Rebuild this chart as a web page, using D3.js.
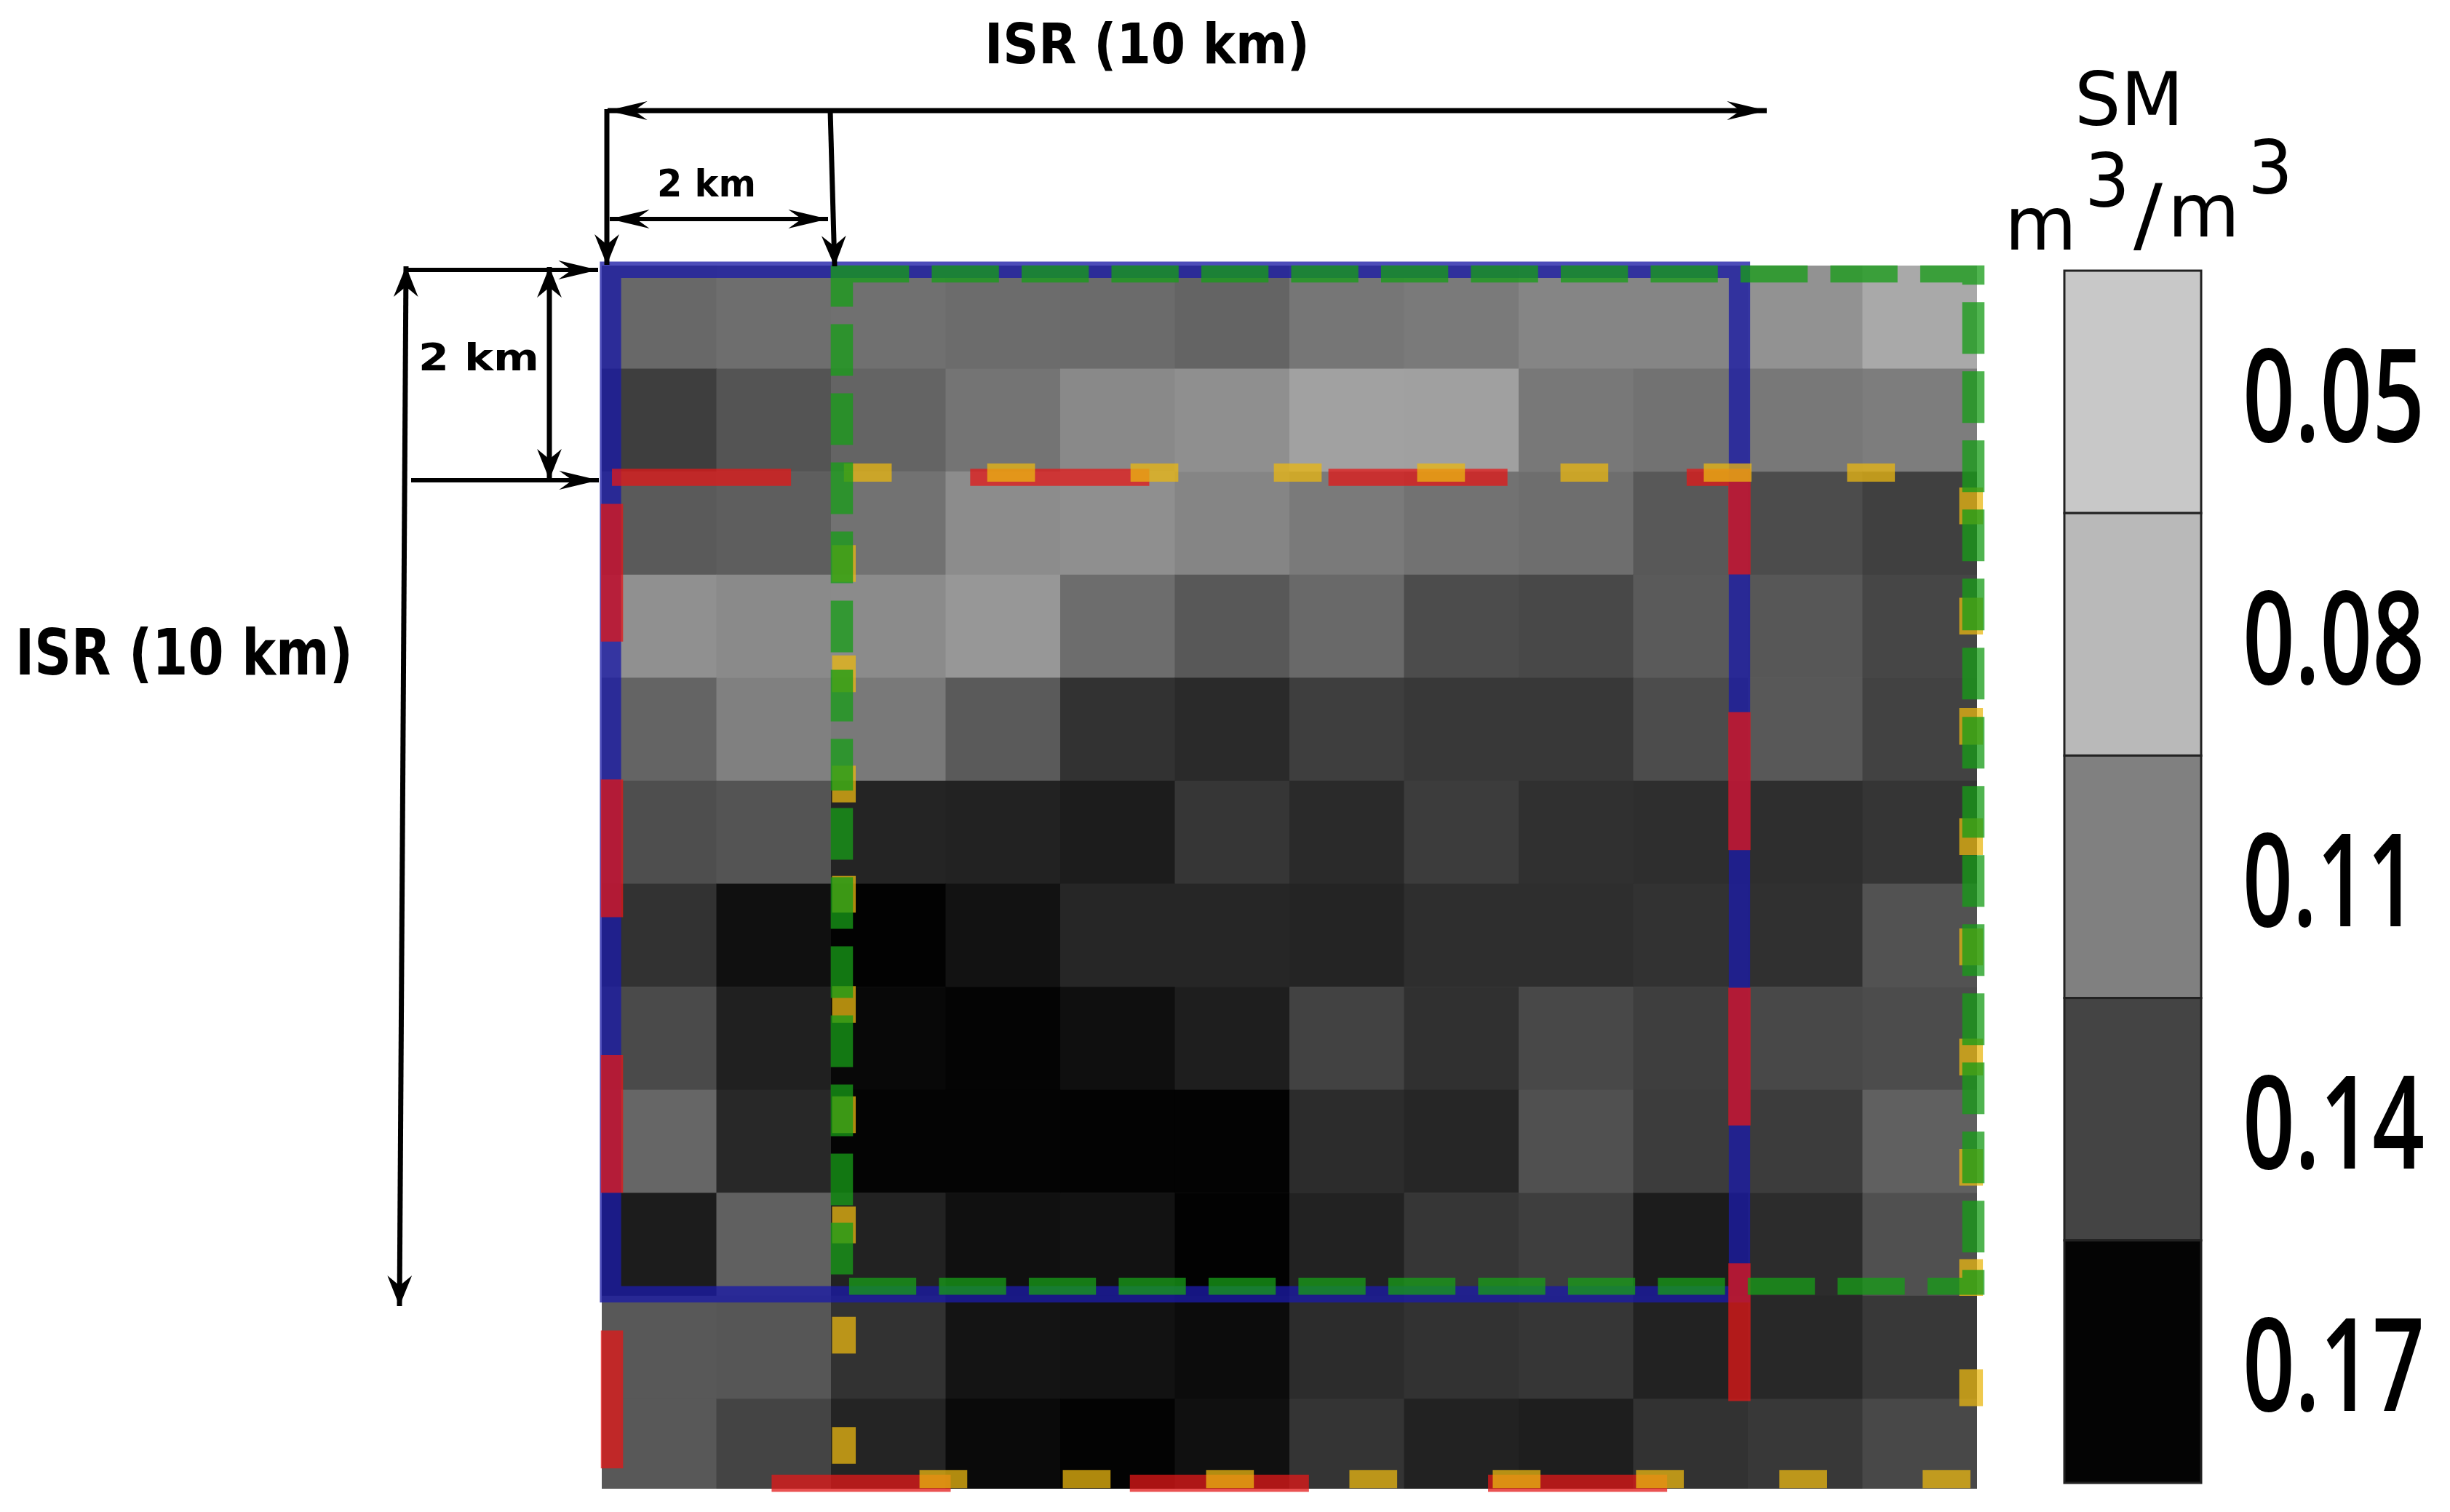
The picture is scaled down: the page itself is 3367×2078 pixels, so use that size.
<!DOCTYPE html>
<html><head><meta charset="utf-8">
<script src="https://cdn.jsdelivr.net/npm/d3@7"></script>
<style>html,body{margin:0;padding:0;background:#fff}svg{display:block}</style>
</head><body><div id="chart"></div>
<script>
// soil moisture (m3/m3) on the 1 km grid, row by row
const smRow00=[.1091,.1054,.1042,.1066,.1072,.1115,.1005,.0980,.0912,.0912,.0832,.0691];
const smRow01=[.1349,.1214,.1115,.1017,.0888,.0851,.0740,.0746,.0992,.1029,.0992,.0962];
const smRow02=[.1177,.1152,.1029,.0869,.0851,.0912,.0980,.1029,.1054,.1189,.1263,.1337];
const smRow03=[.0845,.0882,.0875,.0802,.1060,.1189,.1085,.1263,.1288,.1177,.1195,.1300];
const smRow04=[.1115,.0943,.0986,.1177,.1423,.1472,.1349,.1386,.1386,.1263,.1189,.1325];
const smRow05=[.1251,.1214,.1509,.1522,.1558,.1398,.1472,.1362,.1435,.1448,.1448,.1405];
const smRow06=[.1423,.1632,.1718,.1620,.1497,.1497,.1509,.1448,.1448,.1423,.1435,.1226];
const smRow07=[.1275,.1534,.1682,.1706,.1638,.1546,.1325,.1435,.1288,.1349,.1288,.1263];
const smRow08=[.1103,.1485,.1706,.1706,.1712,.1712,.1460,.1497,.1238,.1362,.1362,.1140];
const smRow09=[.1558,.1140,.1522,.1632,.1620,.1718,.1522,.1398,.1349,.1558,.1460,.1238];
const smRow10=[.1189,.1202,.1423,.1608,.1620,.1657,.1460,.1423,.1398,.1522,.1485,.1386];
const smRow11=[.1189,.1312,.1509,.1669,.1712,.1632,.1411,.1522,.1546,.1423,.1386,.1288];
const smGrid=[smRow00,smRow01,smRow02,smRow03,smRow04,smRow05,smRow06,smRow07,smRow08,smRow09,smRow10,smRow11];

const legendLabels=["0.05","0.08","0.11","0.14","0.17"];
const legendGreys=[200,185,128,68,4];

// the four 10 km windows, in km on the grid: [left, top, right, bottom]
const windowBlue=[0.076,0.04,9.927,9.986];
const windowRed=[0.089,2.055,9.927,11.82];
const windowYellow=[2.113,2.01,11.948,11.78];
const windowGreen=[2.095,0.081,11.968,9.908];

const W=3367,H=2078;
const svg=d3.select("#chart").append("svg").attr("width",W).attr("height",H).attr("viewBox",`0 0 ${W} ${H}`);
const defs=svg.append("defs");

const x=d3.scaleLinear().domain([0,12]).range([827,2717]);
const y=d3.scaleLinear().domain([0,12]).range([365,2064]);
const smGrey=d3.scaleLinear().domain([0.05,0.17]).range([200,5]);
const grey=g=>{const v=Math.round(g);return `rgb(${v},${v},${v})`};

defs.append("clipPath").attr("id","gridClip").append("rect")
  .attr("x",x(0)).attr("y",y(0)).attr("width",x(12)-x(0)).attr("height",2046-y(0));

const cells=smGrid.flatMap((row,r)=>row.map((v,c)=>({r,c,v})));
svg.append("g").attr("clip-path","url(#gridClip)").selectAll("rect").data(cells).join("rect")
  .attr("x",d=>x(d.c)).attr("y",d=>y(d.r))
  .attr("width",d=>x(d.c+1)-x(d.c)+.6).attr("height",d=>y(d.r+1)-y(d.r)+.6)
  .attr("fill",d=>grey(smGrey(d.v)));

// windows: the image was stretched wider than tall, so strokes and dashes scale with it
const stretch=1.3;
const frameLayer=svg.append("g").attr("transform",`scale(${stretch},1)`).attr("fill","none");
function frame(w,color,alpha,width,dash){
  const [l,t,r,b]=w;
  const path=d3.path();
  path.moveTo(x(l)/stretch,y(t));
  path.lineTo(x(r)/stretch,y(t));
  path.lineTo(x(r)/stretch,y(b));
  path.lineTo(x(l)/stretch,y(b));
  path.closePath();
  frameLayer.append("path").attr("d",path.toString())
    .attr("stroke",color).attr("stroke-opacity",alpha).attr("stroke-width",width)
    .attr("stroke-dasharray",dash).attr("stroke-linejoin","miter");
}
frame(windowBlue,"rgb(27,27,165)",.78,22.5,null);
frame(windowRed,"rgb(227,24,24)",.75,23.5,"189.3 189.4");
frame(windowYellow,"rgb(234,183,18)",.75,25,"50.5 101");
frame(windowGreen,"rgb(24,157,24)",.76,23.5,"71 24");

// dimension arrows
const dims=[
 {from:[835,152],to:[2428,152],both:true,w:7},
 {from:[834,150],to:[834,364],both:false,w:7},
 {from:[1141,152],to:[1147,366],both:false,w:7},
 {from:[838,301],to:[1138,301],both:true,w:6},
 {from:[558,366],to:[549,1795],both:true,w:7},
 {from:[560,371],to:[822,371],both:false,w:6},
 {from:[565,660],to:[823,660],both:false,w:6},
 {from:[755,367],to:[755,659],both:true,w:7}
];
const arrowLayer=svg.append("g");
function head(tip,ang){
  const L=42,Wd=13,N=28;
  const ux=Math.cos(ang),uy=Math.sin(ang),px=-uy,py=ux;
  const pts=[[0,0],[-ux*L+px*Wd,-uy*L+py*Wd],[-ux*N,-uy*N],[-ux*L-px*Wd,-uy*L-py*Wd]]
    .map(p=>[tip[0]+p[0]*stretch,tip[1]+p[1]]);
  arrowLayer.append("path").attr("d",d3.line()(pts)+"Z").attr("fill","#000");
}
dims.forEach(d=>{
  arrowLayer.append("path").attr("d",d3.line()([d.from,d.to])).attr("stroke","#000").attr("stroke-width",d.w).attr("fill","none");
  const a=Math.atan2(d.to[1]-d.from[1],(d.to[0]-d.from[0])/stretch);
  head(d.to,a);
  if(d.both) head(d.from,a+Math.PI);
});

// text fitted to a measured width
function fitText(t,xp,base,wid,size,family,weight){
  const el=svg.append("text").text(t)
    .attr("font-family",family).attr("font-weight",weight).attr("font-size",size).attr("fill","#000");
  const len=el.node().getComputedTextLength();
  el.attr("transform",`translate(${xp},${base}) scale(${wid/len},1)`);
}
const dv="'DejaVu Sans'";
fitText("ISR (10 km)",1353,87,447,76,dv,700);
fitText("ISR (10 km)",21,927,464,88,dv,700);
fitText("2 km",903,270,136,52,dv,700);
fitText("2 km",575,509,166,52,dv,700);

// legend
const legendY=d3.scaleBand().domain(legendLabels).range([372,2038]);
const lg=svg.append("g");
lg.selectAll("rect").data(legendLabels).join("rect")
  .attr("x",2837).attr("width",188).attr("y",d=>legendY(d)).attr("height",legendY.bandwidth())
  .attr("fill",(d,i)=>grey(legendGreys[i])).attr("stroke","#222").attr("stroke-width",3);
legendLabels.forEach(l=>fitText(l,3082,legendY(l)+legendY.bandwidth()/2+68,l==="0.11"?240:250,178,"'Open Sans'",600));

// legend title
const titleParts=[["SM",2851,172,150,101],["m",2755,343,99,101],["3",2865,284,62,101],["/",2932,334,40,112],["m",2979,325,99,101],["3",3089,266,62,101]];
titleParts.forEach(d=>fitText(d[0],d[1],d[2],d[3],d[4],dv,400));
</script></body></html>
